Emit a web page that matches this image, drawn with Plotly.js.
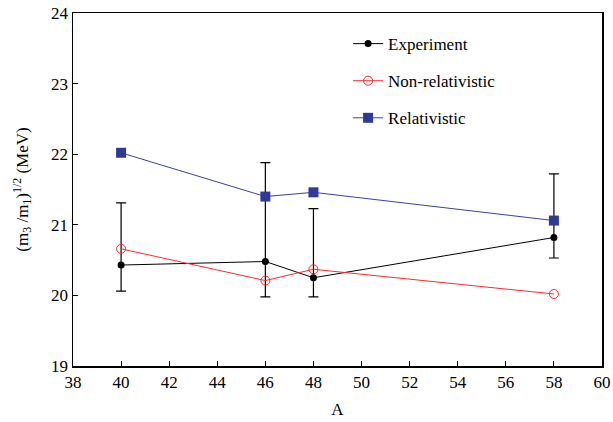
<!DOCTYPE html>
<html><head><meta charset="utf-8">
<script src="https://cdn.plot.ly/plotly-3.0.1.min.js"></script>
<style>html,body{margin:0;padding:0;background:#fff}#chart{width:613px;height:422px}</style>
</head><body><div id="chart"></div>
<script>
const massA = [40, 46, 48, 58];
const experiment = [20.43, 20.48, 20.25, 20.82];
const expErrPlus = [0.88, 1.40, 0.98, 0.90];
const expErrMinus = [0.37, 0.50, 0.27, 0.29];
const nonRelativistic = [20.66, 20.21, 20.37, 20.02];
const relativistic = [22.02, 21.40, 21.46, 21.06];
const xTicks = [38, 40, 42, 44, 46, 48, 50, 52, 54, 56, 58, 60];
const yTicks = [19, 20, 21, 22, 23, 24];

const font = {family: 'Liberation Serif, Times New Roman, serif', color: '#000'};

const traces = [
  {x: massA, y: experiment, name: 'Experiment', mode: 'lines+markers', legendgroup: 'a',
   line: {color: '#000', width: 1}, marker: {symbol: 'circle', size: 7, color: '#000'},
   error_y: {type: 'data', symmetric: false, array: expErrPlus, arrayminus: expErrMinus,
             color: '#000', thickness: 1.2, width: 5}},
  {x: massA, y: nonRelativistic, name: 'Non-relativistic', mode: 'lines+markers', legendgroup: 'b',
   line: {color: '#ff2a2a', width: 1}, marker: {symbol: 'circle-open', size: 9, color: '#ff2a2a', line: {width: 1}}},
  {x: massA, y: relativistic, name: 'Relativistic', mode: 'lines+markers', legendgroup: 'c',
   line: {color: '#3a42a0', width: 1}, marker: {symbol: 'square', size: 10, color: '#2e3a9a'}}
];

const layout = {
  width: 613, height: 422,
  margin: {l: 73, r: 11, t: 13, b: 56},
  paper_bgcolor: '#fff', plot_bgcolor: '#fff',
  font: Object.assign({size: 16}, font),
  showlegend: true,
  legend: {x: 0.52, y: 0.963, xanchor: 'left', yanchor: 'top', bgcolor: 'rgba(0,0,0,0)',
           font: Object.assign({size: 17}, font), tracegroupgap: 12, traceorder: 'grouped'},
  xaxis: {range: [38, 60], tickvals: xTicks, ticktext: xTicks.map(String),
          ticks: 'inside', ticklen: 5, tickwidth: 1, tickcolor: '#000',
          showline: true, linecolor: '#000', linewidth: 1.5, mirror: true, showgrid: false, zeroline: false,
          tickfont: Object.assign({size: 17}, font),
          title: {text: 'A', font: Object.assign({size: 17}, font), standoff: 12}},
  yaxis: {range: [19, 24], tickvals: yTicks, ticktext: yTicks.map(String),
          ticks: 'inside', ticklen: 5, tickwidth: 1, tickcolor: '#000',
          showline: true, linecolor: '#000', linewidth: 1.5, mirror: true, showgrid: false, zeroline: false,
          tickfont: Object.assign({size: 17}, font),
          title: {text: '(m<sub>3</sub> /m<sub>1</sub>)<sup>1/2</sup> (MeV)', font: Object.assign({size: 17}, font), standoff: 18}}
};

Plotly.newPlot('chart', traces, layout, {displayModeBar: false, staticPlot: true});
</script></body></html>
